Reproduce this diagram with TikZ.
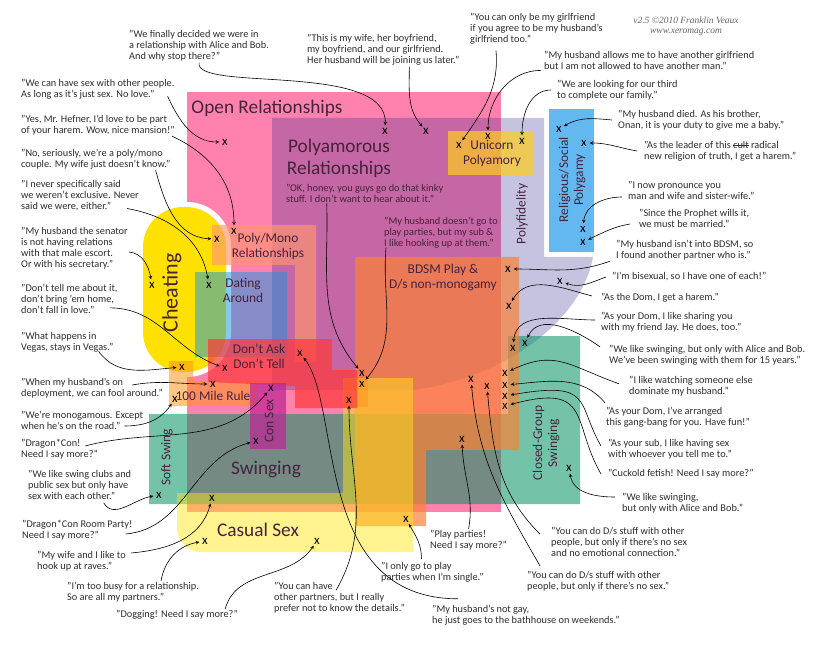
\documentclass[tikz,border=0pt]{standalone}
\usepackage{fontspec}
\setmainfont{Carlito}
\newfontfamily\creditfont{Liberation Serif}
\usetikzlibrary{calc}

\definecolor{openc}{RGB}{255,130,174}
\definecolor{cheatc}{RGB}{255,225,0}
\definecolor{polyc}{RGB}{44,33,144}
\definecolor{religc}{RGB}{99,184,240}
\definecolor{swingc}{RGB}{2,146,97}
\definecolor{bdsmc}{RGB}{250,130,55}
\definecolor{casualc}{RGB}{255,230,22}
\definecolor{monoc}{RGB}{255,150,110}
\definecolor{datec}{RGB}{15,150,225}
\definecolor{milec}{RGB}{255,150,30}
\definecolor{askc}{RGB}{255,57,57}
\definecolor{conc}{RGB}{190,35,150}
\definecolor{unic}{RGB}{255,205,30}
\definecolor{quotegray}{RGB}{45,45,45}
\definecolor{regiontext}{RGB}{70,35,60}

\newcommand{\struck}[1]{\setbox0\hbox{#1}\rlap{\rule[.22em]{\wd0}{.6pt}}#1}

\begin{document}
\begin{tikzpicture}[x=1pt, y=1pt, >=stealth]

    \tikzstyle{quote}=[anchor=west, align=left, inner sep=1pt, text=quotegray, font=\fontsize{10.3}{11}\selectfont];
    \tikzstyle{spot}=[circle, inner sep=0pt, minimum size=11pt, font=\fontsize{13}{13}\selectfont];
    \tikzstyle{lead}=[->, line width=0.6pt, black];
    \tikzstyle{small}=[align=center, inner sep=0pt, text=regiontext, font=\fontsize{13.4}{15}\selectfont];
    \tikzstyle{big}=[align=center, inner sep=0pt, text=regiontext, font=\fontsize{19.3}{22}\selectfont];

    \useasboundingbox (0,-652) rectangle (824,0);

    % regions, lowest first
    \fill[openc] (187,-92) rectangle (501,-512);
    \fill[white, rounded corners=44pt] (132,-202) rectangle (231,-377);
    \fill[cheatc, rounded corners=40pt] (143,-207) rectangle (226,-372);
    \fill[polyc, opacity=0.27] (272,-118) -- (544,-118) -- (544,-257) -- (593,-257) .. controls (582,-320) and (505,-378) .. (413,-390) -- (272,-390) -- cycle;
    \fill[religc] (549,-109) rectangle (594,-252);
    \fill[swingc, opacity=0.55] (149,-414) -- (508,-414) -- (508,-336) -- (580,-336) -- (580,-504) -- (149,-504) -- cycle;
    \fill[bdsmc, opacity=0.7] (355,-257) -- (519,-257) -- (519,-450) -- (426,-450) -- (426,-526) -- (355,-526) -- cycle;
    \fill[casualc, opacity=0.48] (177,-493) [rounded corners=24pt] -- (177,-552) [sharp corners] -- (413,-552) -- (413,-378) -- (343,-378) -- (343,-493) -- cycle;
    \fill[monoc, opacity=0.65] (212,-225) -- (316,-225) -- (316,-362) -- (295,-362) -- (295,-265) -- (212,-265) -- cycle;
    \fill[datec, opacity=0.5] (195,-272) rectangle (287,-357);
    \fill[milec, opacity=0.55] (169,-361) -- (193,-361) -- (193,-382) -- (258,-382) -- (258,-406) -- (169,-406) -- cycle;
    \fill[milec, opacity=0.55] (344,-378) rectangle (368,-407);
    \fill[askc, opacity=0.7] (208,-339) -- (332,-339) -- (332,-370) -- (357,-370) -- (357,-408) -- (295,-408) -- (295,-386) -- (208,-382) -- cycle;
    \fill[conc, opacity=0.7] (250,-383) rectangle (286,-449);
    \fill[unic, opacity=0.7] (448,-131) rectangle (533,-175);

    % region names
    \node[big] (open) at (267,-108) {Open Relationships};
    \node[big] (polyam) at (339,-158) {Polyamorous\\Relationships};
    \node[small] (unicorn) at (492,-153) {Unicorn\\Polyamory};
    \node[small, rotate=90] (polyfi) at (522,-214) {Polyfidelity};
    \node[small, rotate=90] (relig) at (572,-180) {Religious/Social\\Polygamy};
    \node[small] (polymono) at (268,-246) {Poly/Mono\\Relationships};
    \node[small] (dating) at (243,-290) {Dating\\Around};
    \node[inner sep=0pt, text=regiontext, font=\fontsize{22}{22}\selectfont, rotate=90] (cheating) at (172,-293) {Cheating};
    \node[small] (dontask) at (259,-356) {Don't Ask\\Don't Tell};
    \node[small] (mile) at (213,-396) {100 Mile Rule};
    \node[small, rotate=90] (consex) at (269,-421) {Con Sex};
    \node[small, rotate=90] (softsw) at (167,-457) {Soft Swing};
    \node[big] (swinging) at (266,-470) {Swinging};
    \node[big] (casual) at (258,-530) {Casual Sex};
    \node[small] (bdsm) at (443,-277) {BDSM Play \&\\D/s non-monogamy};
    \node[small, rotate=90] (closed) at (546,-443) {Closed-Group\\Swinging};

    \node[align=center, inner sep=0pt, text=black!60, font=\creditfont\itshape\fontsize{9.5}{10.5}\selectfont] (credit) at (686,-26) {v2.5 ©2010 Franklin Veaux\\www.xeromag.com};

    % quotes
    \node[quote] (finally) at (128,-46) {"We finally decided we were in\\a relationship with Alice and Bob.\\And why stop there?"};
    \node[quote] (thiswife) at (306,-50) {"This is my wife, her boyfriend,\\my boyfriend, and our girlfriend.\\Her husband will be joining us later."};
    \node[quote] (justsex) at (20,-89) {"We can have sex with other people.\\As long as it's just sex. No love."};
    \node[quote] (hefner) at (20,-125) {"Yes, Mr. Hefner, I'd love to be part\\of your harem. Wow, nice mansion!"};
    \node[quote] (doesntknow) at (20,-159) {"No, seriously, we're a poly/mono\\couple. My wife just doesn't know."};
    \node[quote] (neversaid) at (20,-196) {"I never specifically said\\we weren't exclusive. Never\\said we were, either."};
    \node[quote] (senator) at (20,-248) {"My husband the senator\\is not having relations\\with that male escort.\\Or with his secretary."};
    \node[quote] (donttell) at (20,-299) {"Don't tell me about it,\\don't bring 'em home,\\don't fall in love."};
    \node[quote] (vegas) at (20,-342) {"What happens in\\Vegas, stays in Vegas."};
    \node[quote] (deploy) at (20,-388) {"When my husband's on\\deployment, we can fool around."};
    \node[quote] (onroad) at (20,-420) {"We're monogamous. Except\\when he's on the road."};
    \node[quote] (dragon) at (20,-449) {"Dragon*Con!\\Need I say more?"};
    \node[quote] (clubs) at (27,-485) {"We like swing clubs and\\public sex but only have\\sex with each other."};
    \node[quote] (roomparty) at (21,-530) {"Dragon*Con Room Party!\\Need I say more?"};
    \node[quote] (raves) at (36,-561) {"My wife and I like to\\hook up at raves."};
    \node[quote] (toobusy) at (66,-592) {"I'm too busy for a relationship.\\So are all my partners."};
    \node[quote] (dogging) at (115,-615) {"Dogging! Need I say more?"};
    \node[quote] (details) at (273,-598) {"You can have\\other partners, but I really\\prefer not to know the details."};
    \node[quote] (bathhouse) at (431,-615) {"My husband's not gay,\\he just goes to the bathhouse on weekends."};
    \node[quote] (single) at (380,-572) {"I only go to play\\parties when I'm single."};
    \node[quote] (parties) at (429,-540) {"Play parties!\\Need I say more?"};
    \node[quote] (nosex) at (526,-581) {"You can do D/s stuff with other\\people, but only if there's no sex."};
    \node[quote] (noemo) at (550,-542) {"You can do D/s stuff with other\\people, but only if there's no sex\\and no emotional connection."};
    \node[quote] (onlyalice) at (621,-503) {"We like swinging,\\but only with Alice and Bob."};
    \node[quote] (cuckold) at (607,-474) {"Cuckold fetish! Need I say more?"};
    \node[quote] (yoursub) at (607,-449) {"As your sub, I like having sex\\with whoever you tell me to."};
    \node[quote] (gangbang) at (605,-417) {"As your Dom, I've arranged\\this gang-bang for you. Have fun!"};
    \node[quote] (watching) at (628,-386) {"I like watching someone else\\dominate my husband."};
    \node[quote] (fifteen) at (608,-355) {"We like swinging, but only with Alice and Bob.\\We've been swinging with them for 15 years."};
    \node[quote] (jay) at (600,-322) {"As your Dom, I like sharing you\\with my friend Jay. He does, too."};
    \node[quote] (domharem) at (600,-298) {"As the Dom, I get a harem."};
    \node[quote] (bisexual) at (611,-277) {"I'm bisexual, so I have one of each!"};
    \node[quote] (notbdsm) at (615,-250) {"My husband isn't into BDSM, so\\I found another partner who is."};
    \node[quote] (prophet) at (638,-218) {"Since the Prophet wills it,\\we must be married."};
    \node[quote] (pronounce) at (627,-190) {"I now pronounce you\\man and wife and sister-wife."};
    \node[quote] (leader) at (643,-151) {"As the leader of this \struck{cult} radical\\new religion of truth, I get a harem."};
    \node[quote] (onan) at (617,-120) {"My husband died. As his brother,\\Onan, it is your duty to give me a baby."};
    \node[quote] (third) at (556,-90) {"We are looking for our third\\to complete our family."};
    \node[quote] (allowed) at (543,-60) {"My husband allows me to have another girlfriend\\but I am not allowed to have another man."};
    \node[quote] (onlygf) at (469,-29) {"You can only be my girlfriend\\if you agree to be my husband's\\girlfriend too."};
    \node[quote, text=regiontext] (kinky) at (285,-193) {"OK, honey, you guys go do that kinky\\stuff. I don't want to hear about it."};
    \node[quote, text=regiontext] (hookup) at (383,-233) {"My husband doesn't go to\\play parties, but my sub \&\\I like hooking up at them."};

    % marks
    \node[spot] (xfinally) at (385,-131) {x};
    \node[spot] (xthiswife) at (426,-131) {x};
    \node[spot] (xjustsex) at (225,-142) {x};
    \node[spot] (xhefner) at (234,-231) {x};
    \node[spot] (xdoesntknow) at (217,-239) {x};
    \node[spot] (xneversaid) at (209,-285) {x};
    \node[spot] (xsenator) at (152,-285) {x};
    \node[spot] (xdonttell) at (225,-368) {x};
    \node[spot] (xvegas) at (182,-367) {x};
    \node[spot] (xdeploy) at (213,-384) {x};
    \node[spot] (xonroad) at (175,-399) {x};
    \node[spot] (xdragon) at (271,-388) {x};
    \node[spot] (xclubs) at (159,-495) {x};
    \node[spot] (xroomparty) at (256,-441) {x};
    \node[spot] (xraves) at (212,-498) {x};
    \node[spot] (xtoobusy) at (205,-541) {x};
    \node[spot] (xdogging) at (317,-541) {x};
    \node[spot] (xdetails) at (349,-400) {x};
    \node[spot] (xbathhouse) at (300,-353) {x};
    \node[spot] (xsingle) at (406,-519) {x};
    \node[spot] (xparties) at (462,-439) {x};
    \node[spot] (xnosex) at (471,-379) {x};
    \node[spot] (xnoemo) at (487,-386) {x};
    \node[spot] (xonlyalice) at (569,-468) {x};
    \node[spot] (xcuckold) at (505,-406) {x};
    \node[spot] (xyoursub) at (505,-396) {x};
    \node[spot] (xgangbang) at (505,-385) {x};
    \node[spot] (xwatching) at (505,-373) {x};
    \node[spot] (xfifteen) at (525,-343) {x};
    \node[spot] (xjay) at (513,-348) {x};
    \node[spot] (xdomharem) at (509,-306) {x};
    \node[spot] (xbisexual) at (560,-281) {x};
    \node[spot] (xnotbdsm) at (508,-269) {x};
    \node[spot] (xprophet) at (583,-242) {x};
    \node[spot] (xpronounce) at (583,-229) {x};
    \node[spot] (xleader) at (584,-143) {x};
    \node[spot] (xonan) at (559,-129) {x};
    \node[spot] (xthird) at (522,-141) {x};
    \node[spot] (xallowed) at (488,-136) {x};
    \node[spot] (xonlygf) at (459,-145) {x};
    \node[spot] (xkinky) at (362,-373) {x};
    \node[spot] (xhookup) at (362,-384) {x};

    % leads
    \draw (finally.south) edge[out=-100, in=88, out distance=30, in distance=64, lead] (xfinally);
    \draw ([xshift=26pt]thiswife.south) edge[out=-90, in=130, lead] (xthiswife);
    \draw ([xshift=27pt, yshift=-5pt]onlygf.south west) edge[out=-85, in=55, lead] (xonlygf);
    \draw ([xshift=-2pt]allowed.south west) edge[out=180, in=90, lead] (xallowed);
    \draw ([xshift=-5pt]third.west) edge[out=180, in=90, lead] (xthird);
    \draw ([xshift=-5pt]onan.west) edge[out=175, in=30, lead] (xonan);
    \draw ([xshift=-6pt]leader.west) edge[out=170, in=0, lead] (xleader);
    \draw ([xshift=-5pt, yshift=-7pt]pronounce.west) edge[out=180, in=85, lead] (xpronounce);
    \draw ([xshift=-8pt, yshift=-6pt]prophet.west) edge[out=190, in=25, lead] (xprophet);
    \draw ([xshift=-5pt]notbdsm.south west) edge[out=200, in=0, lead] (xnotbdsm);
    \draw ([xshift=-5pt]bisexual.west) edge[out=200, in=-20, lead] (xbisexual);
    \draw ([xshift=-8pt, yshift=2pt]domharem.west) edge[out=165, in=60, lead] (xdomharem);
    \draw ([xshift=-5pt, yshift=2pt]jay.west) edge[out=180, in=85, lead] (xjay);
    \draw ([xshift=-8pt, yshift=-3pt]fifteen.north west) edge[out=145, in=65, lead] (xfifteen);
    \draw ([xshift=-9pt, yshift=-9pt]watching.north west) edge[out=160, in=25, out distance=55, in distance=50, lead] (xwatching);
    \draw ([yshift=3pt]gangbang.north west) edge[out=130, in=5, lead] (xgangbang);
    \draw ([xshift=-6pt, yshift=3pt]yoursub.west) edge[out=120, in=10, out distance=50, in distance=85, lead] (xyoursub);
    \draw ([xshift=-6pt]cuckold.west) edge[out=120, in=15, out distance=60, in distance=85, lead] (xcuckold);
    \draw ([xshift=-6pt, yshift=6pt]onlyalice.west) edge[out=180, in=-80, lead] (xonlyalice);
    \draw ([xshift=-10pt, yshift=-8pt]noemo.north west) edge[out=135, in=-85, lead] (xnoemo);
    \draw ([xshift=14pt, yshift=4pt]nosex.north west) edge[out=120, in=-85, lead] (xnosex);
    \draw (parties.north) edge[out=80, in=-88, lead] (xparties);
    \draw ([xshift=-11pt, yshift=2pt]single.north) edge[out=90, in=-60, lead] (xsingle);
    \draw ([xshift=27pt, yshift=5pt]bathhouse.north west) edge[out=180, in=-52, out distance=145, in distance=62, lead] (xbathhouse);
    \draw ([xshift=63pt, yshift=-9pt]details.north west) edge[out=60, in=-90, lead] (xdetails);
    \draw ([xshift=-38pt]kinky.south) edge[out=-88, in=130, lead] (xkinky);
    \draw ([xshift=3pt, yshift=2pt]hookup.south west) edge[out=-95, in=50, lead] (xhookup);
    \draw ([xshift=-8pt, yshift=4pt]justsex.south east) edge[out=-65, in=180, lead] (xjustsex);
    \draw ([xshift=-4pt]hefner.south east) edge[out=-25, in=90, lead] (xhefner);
    \draw ([xshift=-16pt]doesntknow.south east) edge[out=-75, in=178, lead] (xdoesntknow);
    \draw ([shift={(-13pt,4pt)}]neversaid.south east) edge[out=-10, in=100, lead] (xneversaid);
    \draw ([yshift=-4pt]senator.east) edge[out=-5, in=100, lead] (xsenator);
    \draw ([shift={(-9pt,7pt)}]donttell.south east) edge[out=0, in=160, lead] (xdonttell);
    \draw ([xshift=-16pt, yshift=2pt]vegas.south east) edge[out=-55, in=185, lead] (xvegas);
    \draw ([xshift=-32pt, yshift=3pt]deploy.east) edge[out=10, in=180, lead] (xdeploy);
    \draw ([xshift=-20pt, yshift=-6pt]onroad.east) edge[out=0, in=-125, lead] (xonroad);
    \draw ([xshift=-14pt, yshift=3pt]dragon.east) edge[out=15, in=-130, lead] (xdragon);
    \draw ([xshift=24pt, yshift=-2pt]clubs.south) edge[out=-60, in=190, lead] (xclubs);
    \draw ([xshift=-8pt, yshift=-4pt]roomparty.east) edge[out=5, in=195, lead] (xroomparty);
    \draw ([xshift=4pt, yshift=8pt]raves.east) edge[out=5, in=-105, lead] (xraves);
    \draw ([xshift=28pt]toobusy.north) edge[out=80, in=190, lead] (xtoobusy);
    \draw ([xshift=48pt]dogging.north) edge[out=75, in=-125, lead] (xdogging);

\end{tikzpicture}
\end{document}
